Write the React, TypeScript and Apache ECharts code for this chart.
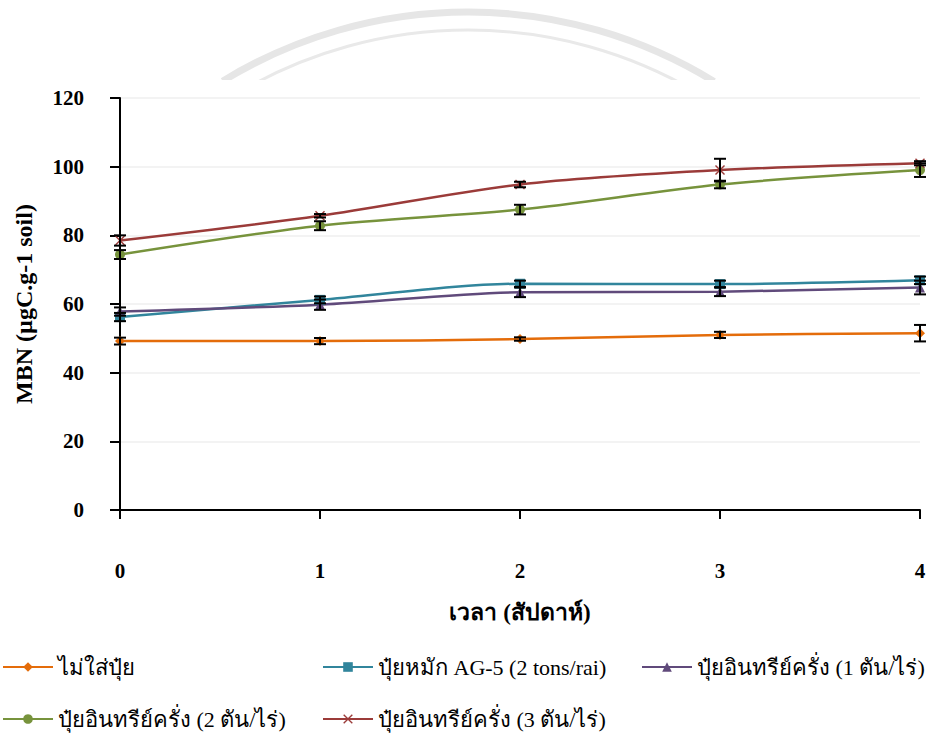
import React, { useEffect, useRef } from "react";
import * as echarts from "echarts";

const weeks = [0, 1, 2, 3, 4];
const seriesNames = [
  "ไม่ใส่ปุ๋ย",
  "ปุ๋ยหมัก AG-5 (2 tons/rai)",
  "ปุ๋ยอินทรีย์ครั่ง (1 ตัน/ไร่)",
  "ปุ๋ยอินทรีย์ครั่ง (2 ตัน/ไร่)",
  "ปุ๋ยอินทรีย์ครั่ง (3 ตัน/ไร่)",
];
const noFert = [49.2, 49.2, 49.8, 51.0, 51.5];
const noFertErr = [1.0, 0.9, 0.5, 0.9, 2.4];
const ag5 = [56.2, 61.2, 65.9, 65.8, 66.9];
const ag5Err = [1.2, 1.0, 0.9, 1.0, 1.1];
const lac1 = [57.8, 59.8, 63.4, 63.6, 64.8];
const lac1Err = [1.2, 1.5, 1.4, 1.3, 2.0];
const lac2 = [74.4, 82.8, 87.5, 94.8, 99.0];
const lac2Err = [1.3, 1.3, 1.4, 1.1, 2.0];
const lac3 = [78.5, 85.7, 94.8, 99.0, 101.0];
const lac3Err = [1.5, 0.5, 0.8, 3.3, 0.6];

const values = [noFert, ag5, lac1, lac2, lac3];
const errors = [noFertErr, ag5Err, lac1Err, lac2Err, lac3Err];
const colors = ["#E46C0A", "#31859C", "#604A7B", "#77933C", "#9B3B39"];
const symbols = [
  "diamond",
  "rect",
  "triangle",
  "circle",
  "path://M0,1 L1,0 L5,4 L9,0 L10,1 L6,5 L10,9 L9,10 L5,6 L1,10 L0,9 L4,5 Z",
];

const FONT = "'Times New Roman', 'Liberation Serif', serif";

export default function App() {
  const ref = useRef<HTMLDivElement>(null);
  useEffect(() => {
    if (!ref.current) return;
    const chart = echarts.init(ref.current, null, { renderer: "svg" });

    const lineSeries = values.map((vals, i) => ({
      name: seriesNames[i],
      type: "line",
      data: weeks.map((w, j) => [w, vals[j]]),
      smooth: 0.3,
      symbol: symbols[i],
      symbolSize: 10,
      lineStyle: { color: colors[i], width: 2.5 },
      itemStyle: { color: colors[i] },
      z: 3,
    }));

    const errSeries = values.map((vals, i) => ({
      name: seriesNames[i] + "_err",
      type: "custom",
      data: weeks.map((w, j) => [w, vals[j] - errors[i][j], vals[j] + errors[i][j]]),
      renderItem: (params: any, api: any) => {
        const x = api.value(0);
        const lo = api.coord([x, api.value(1)]);
        const hi = api.coord([x, api.value(2)]);
        const hw = 6;
        const st = { stroke: "#000", lineWidth: 2 };
        return {
          type: "group",
          children: [
            { type: "line", shape: { x1: lo[0], y1: lo[1], x2: hi[0], y2: hi[1] }, style: st },
            { type: "line", shape: { x1: lo[0] - hw, y1: lo[1], x2: lo[0] + hw, y2: lo[1] }, style: st },
            { type: "line", shape: { x1: hi[0] - hw, y1: hi[1], x2: hi[0] + hw, y2: hi[1] }, style: st },
          ],
        };
      },
      z: 4,
      silent: true,
    }));

    const legendPos = [
      { left: 2, top: 656 },
      { left: 322, top: 656 },
      { left: 641, top: 656 },
      { left: 2, top: 708 },
      { left: 322, top: 708 },
    ];

    chart.setOption({
      animation: false,
      backgroundColor: "#ffffff",
      graphic: [
        {
          type: "arc",
          shape: { cx: 468, cy: 482, r: 470, startAngle: -2.12, endAngle: -1.02 },
          style: { stroke: "#e6e6e6", lineWidth: 7, fill: "none" },
          z: -10,
        },
        {
          type: "arc",
          shape: { cx: 468, cy: 482, r: 452, startAngle: -2.1, endAngle: -1.04 },
          style: { stroke: "#e9e9e9", lineWidth: 3, fill: "none" },
          z: -10,
        },
        {
          type: "rect",
          shape: { x: 0, y: 80, width: 935, height: 30 },
          style: { fill: "#ffffff" },
          z: -9,
        },
      ],
      legend: legendPos.map((p, i) => ({
        data: [seriesNames[i]],
        left: p.left,
        top: p.top,
        padding: 0,
        itemWidth: 50,
        itemHeight: 12,
        itemGap: 5,
        textStyle: { fontFamily: FONT, fontSize: 22, color: "#000" },
      })),
      grid: { left: 120, right: 15, top: 98, bottom: 228 },
      xAxis: {
        type: "value",
        min: 0,
        max: 4,
        interval: 1,
        name: "เวลา (สัปดาห์)",
        nameLocation: "middle",
        nameGap: 91,
        nameTextStyle: { fontFamily: FONT, fontSize: 23, fontWeight: "bold", color: "#000" },
        axisLine: { lineStyle: { color: "#000", width: 2 } },
        axisTick: { show: true, length: 9, lineStyle: { color: "#000", width: 2 } },
        axisLabel: { margin: 50, fontFamily: FONT, fontSize: 21, fontWeight: "bold", color: "#000" },
        splitLine: { show: false },
      },
      yAxis: {
        type: "value",
        min: 0,
        max: 120,
        interval: 20,
        name: "MBN (µgC.g-1 soil)",
        nameLocation: "middle",
        nameGap: 84,
        nameTextStyle: { fontFamily: FONT, fontSize: 24, fontWeight: "bold", color: "#000" },
        axisLine: { show: true, lineStyle: { color: "#000", width: 2 } },
        axisTick: { show: true, length: 10, lineStyle: { color: "#000", width: 2 } },
        axisLabel: { margin: 36, fontFamily: FONT, fontSize: 21, fontWeight: "bold", color: "#000" },
        splitLine: { show: true, lineStyle: { color: "#efefef", width: 1.5 } },
      },
      series: [...lineSeries, ...errSeries],
    });
    return () => chart.dispose();
  }, []);
  return <div ref={ref} style={{ width: 935, height: 738, position: "absolute", left: 0, top: 0 }} />;
}
